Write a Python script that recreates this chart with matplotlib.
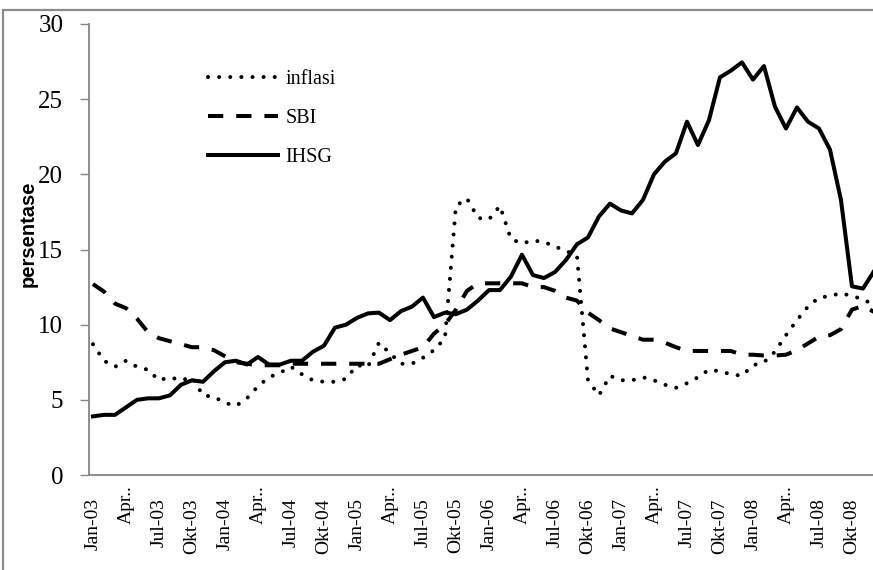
import numpy as np
import matplotlib
matplotlib.use("Agg")
import matplotlib.pyplot as plt
from matplotlib.patches import Rectangle


# monthly data Jan-03 .. Dec-08 (72 months)
INFLASI = [
    8.7, 7.6, 7.2, 7.6, 7.2, 7.0, 6.3, 6.5, 6.3, 6.5, 5.3, 5.2,
    4.8, 4.6, 5.1, 5.9, 6.5, 6.8, 7.2, 6.7, 6.3, 6.2, 6.2, 6.4,
    7.3, 7.2, 8.8, 8.1, 7.4, 7.4, 7.8, 8.3, 9.1, 17.9, 18.4, 17.1,
    17.0, 17.9, 15.7, 15.4, 15.6, 15.5, 15.2, 14.9, 14.6, 6.3, 5.3, 6.6,
    6.3, 6.3, 6.5, 6.3, 6.0, 5.8, 6.1, 6.5, 7.0, 6.9, 6.7, 6.6,
    7.3, 7.5, 8.2, 9.3, 10.3, 11.2, 11.8, 11.9, 12.1, 11.9, 11.7, 11.3,
]
SBI = [
    12.7, 12.2, 11.4, 11.1, 10.4, 9.5, 9.1, 8.9, 8.7, 8.5, 8.5, 8.3,
    7.9, 7.5, 7.4, 7.3, 7.3, 7.3, 7.4, 7.4, 7.4, 7.4, 7.4, 7.4,
    7.4, 7.4, 7.4, 7.7, 8.0, 8.25, 8.5, 9.4, 10.0, 11.0, 12.25, 12.75,
    12.75, 12.75, 12.75, 12.75, 12.5, 12.5, 12.25, 11.8, 11.6, 10.8, 10.3, 9.75,
    9.5, 9.25, 9.0, 9.0, 8.8, 8.5, 8.25, 8.25, 8.25, 8.25, 8.25, 8.0,
    8.0, 7.95, 7.95, 8.0, 8.3, 8.75, 9.2, 9.3, 9.7, 11.0, 11.25, 10.85,
]
IHSG = [
    3.9, 4.0, 4.0, 4.5, 5.0, 5.1, 5.1, 5.3, 6.0, 6.3, 6.2, 6.9,
    7.5, 7.6, 7.35, 7.85, 7.35, 7.35, 7.6, 7.6, 8.2, 8.6, 9.8, 10.0,
    10.45, 10.75, 10.8, 10.3, 10.9, 11.2, 11.8, 10.5, 10.8, 10.7, 11.0, 11.6,
    12.3, 12.3, 13.2, 14.65, 13.3, 13.1, 13.5, 14.3, 15.35, 15.8, 17.2, 18.05,
    17.6, 17.4, 18.3, 20.0, 20.85, 21.4, 23.5, 21.95, 23.6, 26.45, 26.9, 27.45,
    26.3, 27.2, 24.5, 23.05, 24.45, 23.5, 23.05, 21.65, 18.3, 12.55, 12.4, 13.55,
]
TICK_LABELS = [
    "Jan-03", "Apr..", "Jul-03", "Okt-03", "Jan-04", "Apr..", "Jul-04", "Okt-04",
    "Jan-05", "Apr..", "Jul-05", "Okt-05", "Jan-06", "Apr..", "Jul-06", "Okt-06",
    "Jan-07", "Apr..", "Jul-07", "Okt-07", "Jan-08", "Apr..", "Jul-08", "Okt-08",
]
SERIES_NAMES = ["inflasi", "SBI", "IHSG"]

W, H = 873, 570
SERIF = "Liberation Serif"
GRAY = "#868686"

fig = plt.figure(figsize=(W / 100, H / 100), dpi=100)

# outer frame of the pasted chart (cut off at right and bottom)
fig.patches.append(Rectangle((3 / W, -0.2), 1.2, 1.2 - 10 / H, transform=fig.transFigure,
                             fill=False, edgecolor="#8c8c8c", lw=1.6, clip_on=False))

ax = fig.add_axes([89 / W, 95 / H, 792 / W, 451 / H])
x = np.arange(len(IHSG))

lw = 2.9
l1, = ax.plot(x, INFLASI, color="black", lw=lw, dashes=(0.01, 2.75),
              dash_capstyle="round")
l2, = ax.plot(x, SBI, color="black", lw=lw, dashes=(3.8, 3.2))
l3, = ax.plot(x, IHSG, color="black", lw=lw)

ax.set_xlim(-0.36, 71.64)
ax.set_ylim(0, 30)
ax.set_yticks(range(0, 31, 5))
ax.tick_params(axis="y", direction="out", length=6.5, width=1, color=GRAY,
               pad=12, labelsize=18)
for lab in ax.get_yticklabels():
    lab.set_fontfamily(SERIF)
ax.set_xticks([])
for side in ["top", "right"]:
    ax.spines[side].set_visible(False)
for side in ["left", "bottom"]:
    ax.spines[side].set_color(GRAY)
    ax.spines[side].set_linewidth(1.3)

# rotated category labels every 3 months
for i, txt in enumerate(TICK_LABELS):
    off = -10 if txt.startswith("Apr") else -23
    ax.annotate(txt, xy=(i * 3, 0), xycoords=("data", "axes fraction"),
                xytext=(0, off * 0.72), textcoords="offset points",
                rotation=90, ha="center", va="top", fontsize=14, family=SERIF)

fig.text(28 / W, 1 - 234 / H, "persentase", rotation=90, ha="center", va="center",
         fontsize=14.5, fontweight="bold", family="Liberation Sans")

ax.legend([l1, l2, l3], SERIES_NAMES, loc="upper left",
          bbox_to_anchor=(208 / W, 1 - 70 / H), bbox_transform=fig.transFigure,
          frameon=False, borderpad=0, borderaxespad=0, handlelength=3.5,
          handletextpad=0.35, labelspacing=0.98,
          prop={"family": SERIF, "size": 14.5})

fig.savefig("out.png", dpi=100)
